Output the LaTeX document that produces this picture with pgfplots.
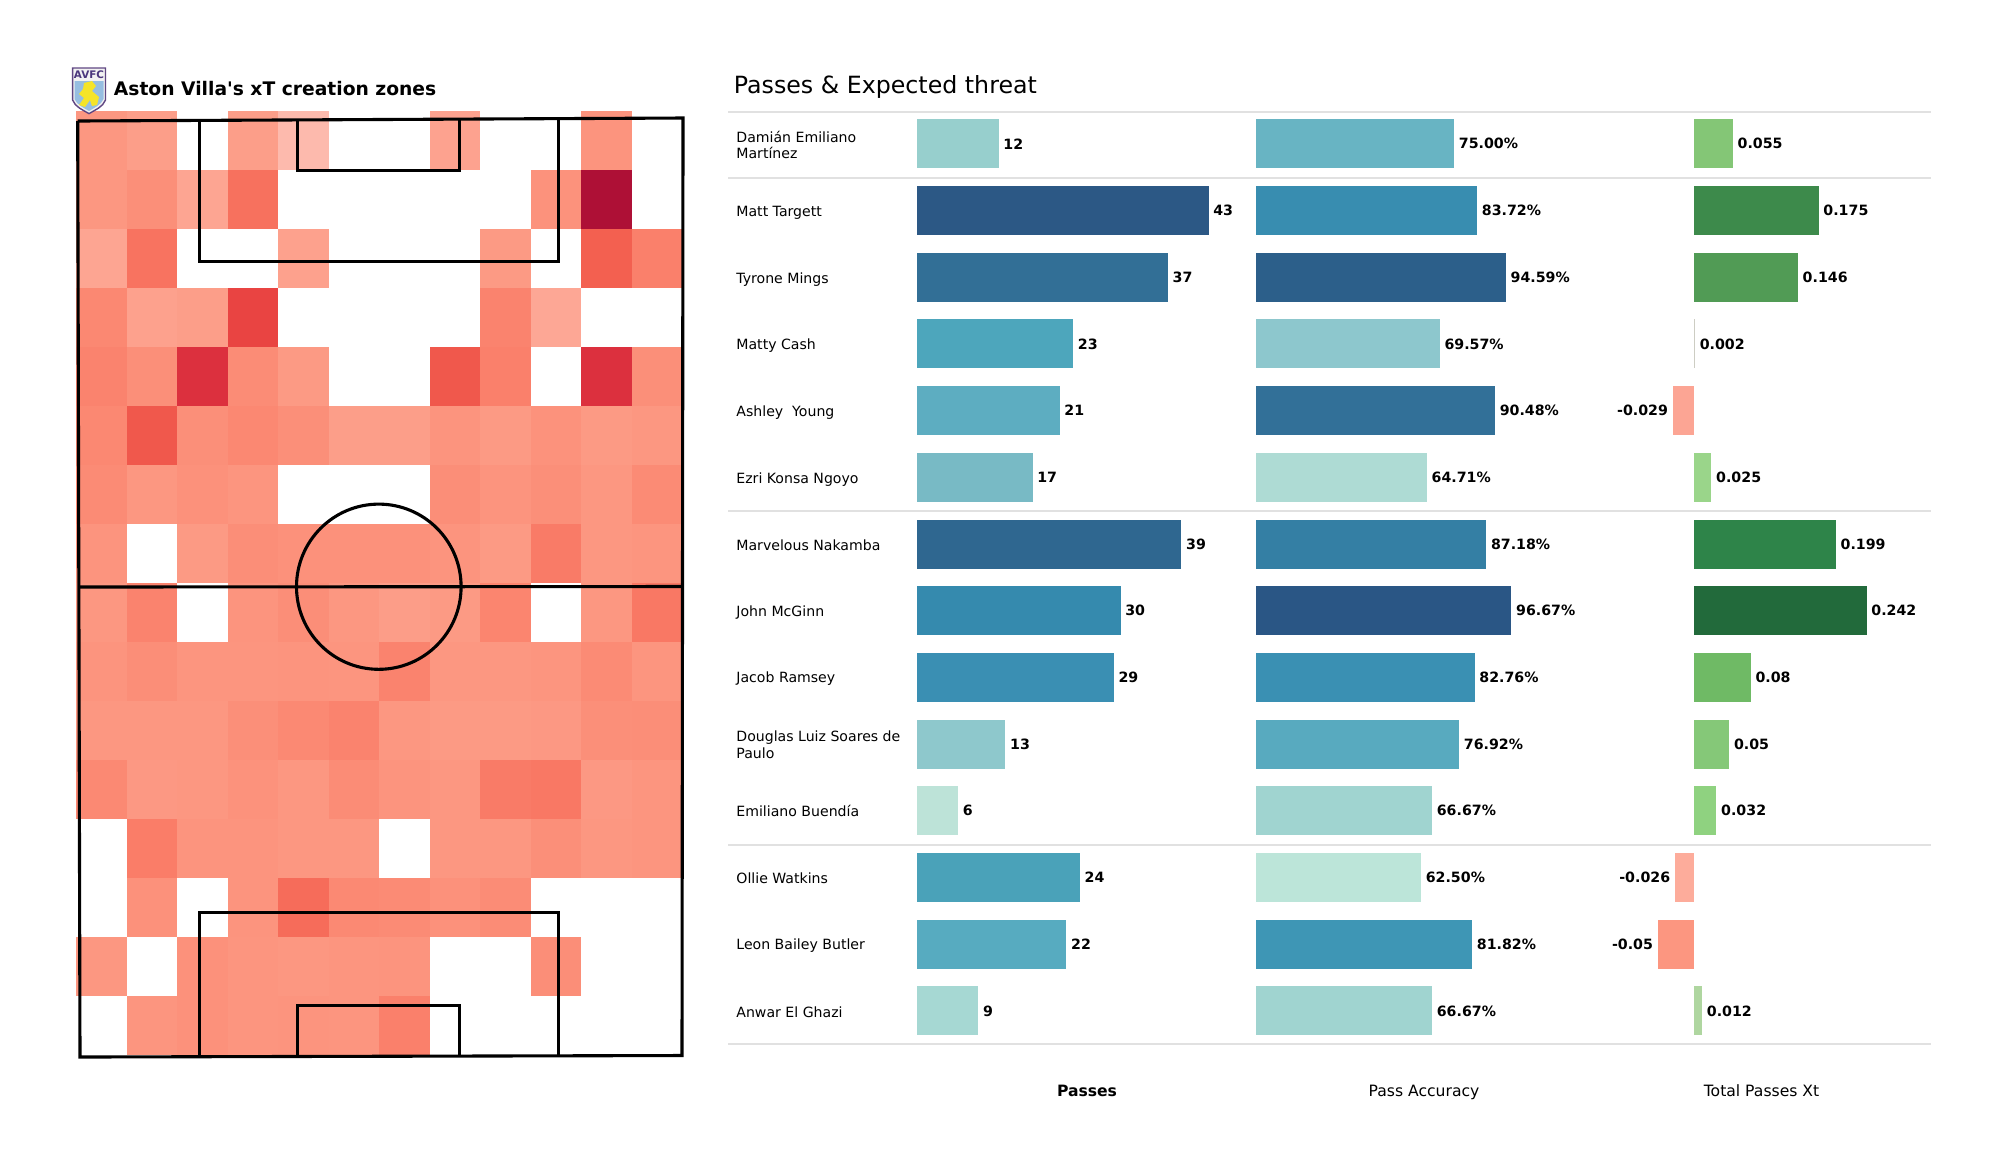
\documentclass[border=0pt]{standalone}
\usepackage{pgfplots}
\pgfplotsset{compat=1.18}
\usepackage{fontspec}
\setmainfont{DejaVu Sans}
% no TeX ligature mapping here, so the apostrophe in the title stays straight
\newfontfamily\titlefont{DejaVu Sans}

\definecolor{rulegrey}{RGB}{225,225,225}
\definecolor{crestblue}{RGB}{150,190,225}
\definecolor{crestline}{RGB}{95,70,130}
\definecolor{crestgold}{RGB}{245,228,40}
\definecolor{cresttext}{RGB}{75,55,125}

% one heat cell: 50.5 x 59 px (1 px = 0.5 pt)
\pgfdeclareplotmark{cell}{%
  \pgfpathrectangle{\pgfpoint{-12.625pt}{-14.75pt}}{\pgfpoint{25.25pt}{29.5pt}}%
  \pgfusepathqfill}

\pgfplotsset{
  barpanel/.style={
    hide axis, scale only axis, clip=false, xbar,
    height=466.9pt, ymin=-0.5, ymax=13.5, y dir=reverse,
    bar width=24.5pt, bar shift=0pt,
    /pgf/number format/assume math mode=true,
    nodes near coords, point meta=x,
    every node near coord/.append style={font=\bfseries\fontsize{7.1}{8}\selectfont, text=black, inner sep=2.2pt},
  },
  pagepx/.style={
    hide axis, scale only axis, clip=false,
    width=1000pt, height=587.5pt, xmin=0, xmax=2000, ymin=0, ymax=1175, y dir=reverse,
    at={(0,0)}, anchor=south west,
  },
  pitchline/.style={line width=1.55pt, black, no markers, line join=miter},
  rule/.style={line width=0.8pt, rulegrey, no markers},
}
% x, row, r, g, b
\newcommand\hb[5]{\addplot[draw=none, fill={rgb,255:red,#3;green,#4;blue,#5}] coordinates {(#1,#2)};}
\newcommand\name[2]{\node[anchor=west, align=left, inner sep=0pt, font=\fontsize{7.05}{8.4}\selectfont] at (axis cs:736,#1) {#2};}

\begin{document}
\begin{tikzpicture}
\path[use as bounding box] (0,0) rectangle (1000pt,587.5pt);

% heat map
\begin{axis}[
  hide axis, scale only axis, clip=false,
  at={(38pt,532.15pt)}, anchor=north west,
  width=303pt, height=472pt,
  xmin=-0.5, xmax=11.5, ymin=-0.5, ymax=15.5, y dir=reverse,
  colormap={xt}{rgb255(0cm)=(253,190,178) rgb255(2cm)=(253,165,146) rgb255(3cm)=(252,151,129) rgb255(4cm)=(251,136,114) rgb255(5cm)=(249,120,100) rgb255(6cm)=(243,96,80) rgb255(7cm)=(233,68,66) rgb255(8cm)=(220,48,62) rgb255(10cm)=(174,16,54)},
  point meta min=0, point meta max=10,
]
\addplot[scatter, only marks, mark=cell, point meta=explicit,
  scatter/use mapped color={draw=mapped color, fill=mapped color}] coordinates {
(0,0)[3] (1,0)[2.5] (3,0)[2.5] (4,0)[0.3] (7,0)[2.2] (10,0)[3.2]
(0,1)[3] (1,1)[3.5] (2,1)[2] (3,1)[5.3] (9,1)[3.3] (10,1)[10]
(0,2)[2] (1,2)[5.2] (4,2)[2.3] (8,2)[2.8] (10,2)[6] (11,2)[4.5]
(0,3)[4] (1,3)[2.3] (2,3)[2.5] (3,3)[7] (8,3)[4.3] (9,3)[1.8]
(0,4)[4.3] (1,4)[3.5] (2,4)[8] (3,4)[3.7] (4,4)[2.8] (7,4)[6.3] (8,4)[4.5] (10,4)[8] (11,4)[3.5]
(0,5)[4] (1,5)[6.3] (2,5)[3.5] (3,5)[4] (4,5)[3.5] (5,5)[2.5] (6,5)[2.5] (7,5)[3.2] (8,5)[2.8] (9,5)[3.3] (10,5)[2.8] (11,5)[3]
(0,6)[3.8] (1,6)[3] (2,6)[3.4] (3,6)[3.1] (7,6)[3.6] (8,6)[3.2] (9,6)[3.5] (10,6)[3] (11,6)[3.8]
(0,7)[3.2] (2,7)[2.8] (3,7)[3.6] (4,7)[3.4] (5,7)[3.4] (6,7)[3.4] (7,7)[3.2] (8,7)[2.8] (9,7)[4.8] (10,7)[3] (11,7)[3.1]
(0,8)[3] (1,8)[4.3] (3,8)[3.2] (4,8)[3.6] (5,8)[3] (6,8)[2.6] (7,8)[2.8] (8,8)[4.2] (10,8)[3] (11,8)[5]
(0,9)[3.2] (1,9)[3.6] (2,9)[3.1] (3,9)[3.1] (4,9)[3.2] (5,9)[3.1] (6,9)[4.3] (7,9)[3] (8,9)[3] (9,9)[3.1] (10,9)[3.8] (11,9)[3.1]
(0,10)[3] (1,10)[3] (2,10)[3] (3,10)[3.5] (4,10)[3.9] (5,10)[4.3] (6,10)[3] (7,10)[2.8] (8,10)[2.8] (9,10)[2.9] (10,10)[3.5] (11,10)[3.6]
(0,11)[3.9] (1,11)[2.9] (2,11)[3] (3,11)[3.3] (4,11)[3] (5,11)[3.7] (6,11)[3.2] (7,11)[3] (8,11)[4.8] (9,11)[5] (10,11)[2.9] (11,11)[3.1]
(1,12)[4.7] (2,12)[3.2] (3,12)[3.2] (4,12)[3] (5,12)[3] (7,12)[3] (8,12)[3] (9,12)[3.5] (10,12)[3] (11,12)[3.1]
(1,13)[3.4] (3,13)[3.2] (4,13)[5.5] (5,13)[3.9] (6,13)[3.8] (7,13)[3.4] (8,13)[3.7]
(0,14)[3] (2,14)[3.4] (3,14)[3.1] (4,14)[3] (5,14)[3.1] (6,14)[3.2] (9,14)[3.6]
(1,15)[3.1] (2,15)[3.4] (3,15)[3.1] (4,15)[3.2] (5,15)[3.1] (6,15)[4.5]
};
\end{axis}

% pitch lines, rules and all free text, in reference pixels
\begin{axis}[pagepx]
\addplot[pitchline] coordinates {(77.7,121) (683,118) (682,1055.5) (80,1057) (77.7,121)};
\addplot[pitchline] coordinates {(79,587) (682,586.5)};
\addplot[pitchline] coordinates {(199.7,120.5) (199.7,261.4) (558.7,261.4) (558.7,119)};
\addplot[pitchline] coordinates {(297.8,120) (297.8,170.4) (459.8,170.4) (459.8,119.5)};
\addplot[pitchline] coordinates {(199.7,1056.5) (199.7,912.7) (558.7,912.7) (558.7,1056)};
\addplot[pitchline] coordinates {(297.8,1056.5) (297.8,1005.3) (459.3,1005.3) (459.3,1056)};
\draw[line width=1.55pt, black] (axis cs:378.8,586.7) ellipse [x radius=41.15pt, y radius=41.3pt];

\addplot[rule] coordinates {(728,111.7) (1931,111.7)};
\addplot[rule] coordinates {(728,177.7) (1931,177.7)};
\addplot[rule] coordinates {(728,510.7) (1931,510.7)};
\addplot[rule] coordinates {(728,844.7) (1931,844.7)};
\addplot[rule] coordinates {(728,1043.7) (1931,1043.7)};

% crest
\fill[white!90!gray] (axis cs:72.6,68) -- (axis cs:105.5,68) -- (axis cs:105.5,100) .. controls (axis cs:103,107) and (axis cs:95,110) .. (axis cs:89,113.6) .. controls (axis cs:83,110) and (axis cs:75,107) .. (axis cs:72.6,100) -- cycle;
\fill[crestblue] (axis cs:74.5,81) -- (axis cs:103.5,81) -- (axis cs:103.5,99) .. controls (axis cs:101,105) and (axis cs:94,108) .. (axis cs:89,111) .. controls (axis cs:84,108) and (axis cs:77,105) .. (axis cs:74.5,99) -- cycle;
\draw[crestline, line width=0.7pt] (axis cs:72.6,68) -- (axis cs:105.5,68) -- (axis cs:105.5,100) .. controls (axis cs:103,107) and (axis cs:95,110) .. (axis cs:89,113.6) .. controls (axis cs:83,110) and (axis cs:75,107) .. (axis cs:72.6,100) -- cycle;
\fill[crestgold] (axis cs:84,83) -- (axis cs:92,81) -- (axis cs:96,86) -- (axis cs:92,91) -- (axis cs:99,97) -- (axis cs:97,105) -- (axis cs:92,106) -- (axis cs:90,100) -- (axis cs:85,107) -- (axis cs:79,105) -- (axis cs:84,98) -- (axis cs:79,94) -- (axis cs:83,89) -- cycle;
\node[inner sep=0pt, font=\bfseries\fontsize{5.2}{6}\selectfont, text=cresttext] at (axis cs:89,75) {AVFC};

% titles
\node[anchor=west, inner sep=0pt, font=\titlefont\bfseries\fontsize{9.35}{11}\selectfont] at (axis cs:113.5,89) {Aston Villa's xT creation zones};
\node[anchor=west, inner sep=0pt, font=\fontsize{11.85}{14}\selectfont] at (axis cs:733.5,86.7) {Passes \& Expected threat};

% player names
\name{145}{Damián Emiliano\\Martínez}
\name{212.5}{Matt Targett}
\name{279.5}{Tyrone Mings}
\name{346}{Matty Cash}
\name{413}{Ashley\ \ Young}
\name{480}{Ezri Konsa Ngoyo}
\name{545}{Marvelous Nakamba}
\name{613}{John McGinn}
\name{679}{Jacob Ramsey}
\name{745}{Douglas Luiz Soares de\\Paulo}
\name{811}{Emiliano Buendía}
\name{878}{Ollie Watkins}
\name{946}{Leon Bailey Butler}
\name{1012}{Anwar El Ghazi}

% column captions
\node[anchor=base, inner sep=0pt, font=\bfseries\fontsize{7.8}{9}\selectfont] at (axis cs:1087,1096.4) {Passes};
\node[anchor=base, inner sep=0pt, font=\fontsize{7.8}{9}\selectfont] at (axis cs:1424,1096.4) {Pass Accuracy};
\node[anchor=base, inner sep=0pt, font=\fontsize{7.8}{9}\selectfont] at (axis cs:1761.5,1096.4) {Total Passes Xt};
\end{axis}

% Passes
\begin{axis}[barpanel, at={(458.7pt,532.275pt)}, anchor=north west, width=166.3pt, xmin=0, xmax=49.13,
  nodes near coords={\pgfmathprintnumber[fixed,precision=0]{\pgfplotspointmeta}}]
\hb{12}{0}{151}{207}{205}
\hb{43}{1}{44}{88}{133}
\hb{37}{2}{50}{111}{150}
\hb{23}{3}{77}{166}{188}
\hb{21}{4}{93}{173}{193}
\hb{17}{5}{120}{186}{197}
\hb{39}{6}{47}{103}{144}
\hb{30}{7}{53}{138}{174}
\hb{29}{8}{58}{143}{179}
\hb{13}{9}{142}{200}{204}
\hb{6}{10}{189}{227}{216}
\hb{24}{11}{74}{162}{185}
\hb{22}{12}{87}{171}{192}
\hb{9}{13}{166}{216}{211}
\end{axis}

% Pass accuracy
\begin{axis}[barpanel, at={(627.9pt,532.275pt)}, anchor=north west, width=166pt, xmin=0, xmax=125.6,
  nodes near coords={\pgfmathprintnumber[fixed,fixed zerofill,precision=2]{\pgfplotspointmeta}\%}]
\hb{75}{0}{104}{180}{195}
\hb{83.72}{1}{56}{141}{176}
\hb{94.59}{2}{44}{95}{138}
\hb{69.57}{3}{141}{199}{205}
\hb{90.48}{4}{50}{112}{152}
\hb{64.71}{5}{174}{219}{212}
\hb{87.18}{6}{52}{127}{164}
\hb{96.67}{7}{42}{86}{133}
\hb{82.76}{8}{58}{144}{179}
\hb{76.92}{9}{88}{170}{191}
\hb{66.67}{10}{160}{212}{208}
\hb{62.5}{11}{188}{229}{217}
\hb{81.82}{12}{62}{150}{181}
\hb{66.67}{13}{160}{212}{208}
\end{axis}

% Total passes xT
\begin{axis}[barpanel, at={(800pt,532.275pt)}, anchor=north west, width=165.5pt, xmin=-0.13077, xmax=0.33217,
  nodes near coords={\pgfmathprintnumber[fixed,precision=3]{\pgfplotspointmeta}}]
\hb{0.055}{0}{132}{198}{118}
\hb{0.175}{1}{61}{138}{75}
\hb{0.146}{2}{81}{155}{85}
\hb{0.002}{3}{205}{205}{195}
\hb{-0.029}{4}{252}{165}{148}
\hb{0.025}{5}{154}{213}{138}
\hb{0.199}{6}{46}{132}{73}
\hb{0.242}{7}{34}{106}{59}
\hb{0.08}{8}{111}{186}{101}
\hb{0.05}{9}{133}{200}{120}
\hb{0.032}{10}{143}{210}{128}
\hb{-0.026}{11}{253}{172}{155}
\hb{-0.05}{12}{252}{150}{128}
\hb{0.012}{13}{175}{214}{160}
\end{axis}
\end{tikzpicture}
\end{document}
